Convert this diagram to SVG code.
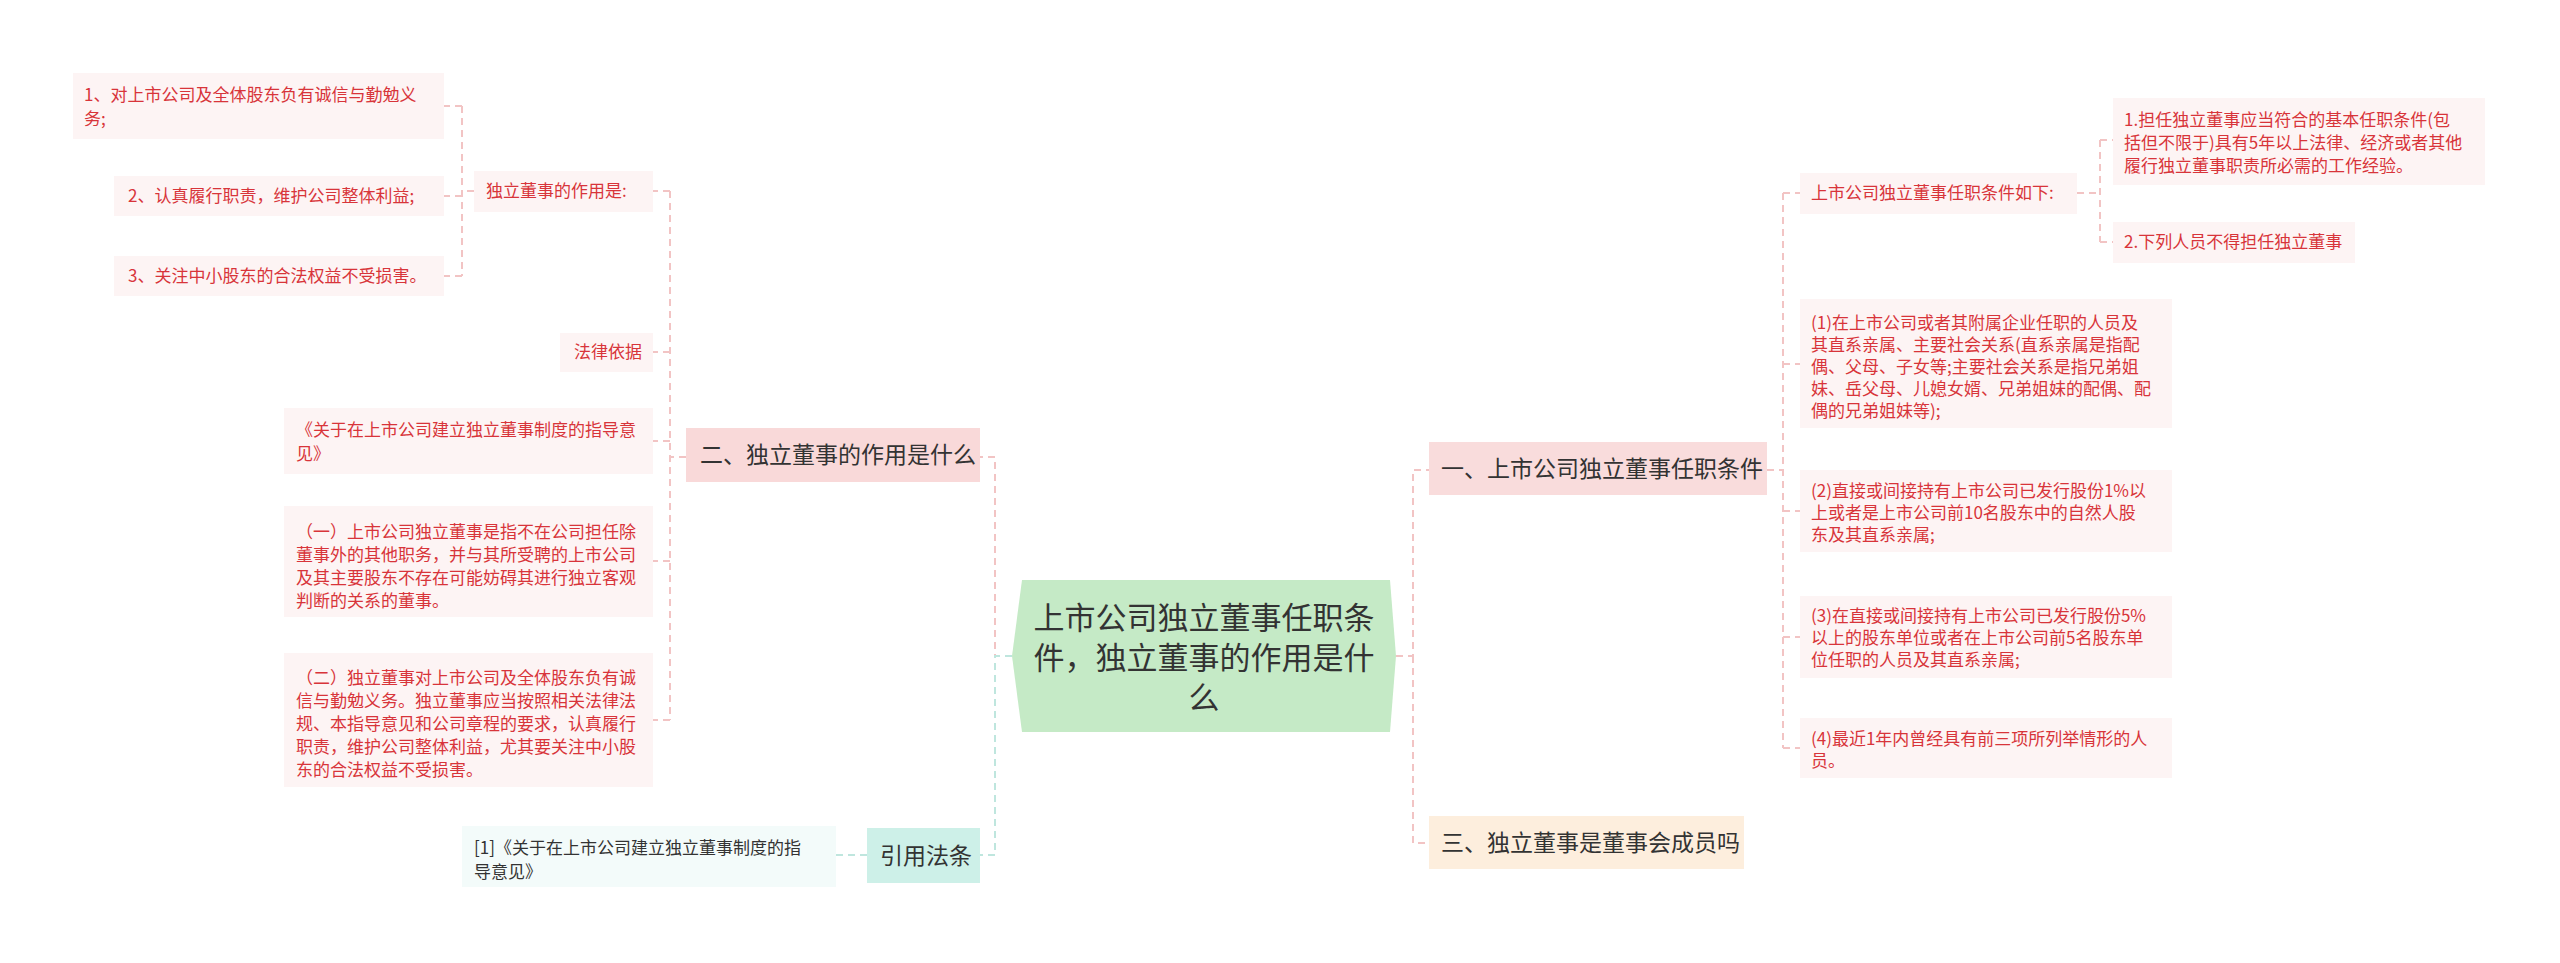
<svg xmlns="http://www.w3.org/2000/svg" width="2560" height="963" viewBox="0 0 2560 963">
<style>
text{font-family:"Noto Sans CJK SC","Liberation Sans",sans-serif}
.leaf rect{fill:#fdf4f4}
.leaf text{fill:#d8343a;font-size:17px}
.br text{fill:#333;font-size:23px}
.c{fill:none;stroke-width:2;stroke-dasharray:7 5}
.p{stroke:#f2c4c4}
.g{stroke:#bfe6de}
</style>
<rect width="2560" height="963" fill="#fff"/>
<g id="connectors">
<path class="c p" d="M1012 656 H995 V457 H980"/>
<path class="c g" d="M1012 656 H995 V855 H980"/>
<path class="c p" d="M1396 656 H1413 V470 H1429"/>
<path class="c p" d="M1413 656 V843 H1429"/>
<path class="c p" d="M686 457 H670 M670 191 V720 M670 191 H653 M670 352 H653 M670 441 H653 M670 561 H653 M670 720 H653"/>
<path class="c p" d="M474 191 H462 M462 106 V276 M462 106 H444 M462 196 H444 M462 276 H444"/>
<path class="c g" d="M867 855 H836"/>
<path class="c p" d="M1783 193 V748 M1767 470 H1783 M1783 193 H1800 M1783 364 H1800 M1783 511 H1800 M1783 637 H1800 M1783 748 H1800"/>
<path class="c p" d="M2077 193 H2100 M2100 140 V242 M2100 140 H2113 M2100 242 H2113"/>
</g>
<g id="center">
<path d="M1022 580 H1390 L1396 656 L1390 732 H1022 L1012 656 Z" fill="#c5eac6"/>
<text x="1204" y="629" font-size="31" fill="#333" text-anchor="middle"><tspan x="1204">上市公司独立董事任职条</tspan><tspan x="1204" dy="40">件，独立董事的作用是什</tspan><tspan x="1204" dy="40">么</tspan></text>
</g>
<g id="b2" class="br"><rect x="686" y="428" width="294" height="54" fill="#f9d9d9"/><text x="700" y="463">二、独立董事的作用是什么</text></g>
<g id="bcite" class="br"><rect x="867" y="828" width="113" height="55" fill="#cdf0e8"/><text x="880" y="864">引用法条</text></g>
<g id="b1" class="br"><rect x="1429" y="442" width="338" height="53" fill="#f9dcdc"/><text x="1441" y="477">一、上市公司独立董事任职条件</text></g>
<g id="b3" class="br"><rect x="1429" y="816" width="315" height="53" fill="#fdeedd"/><text x="1441" y="851">三、独立董事是董事会成员吗</text></g>
<g id="cite1"><rect x="462" y="826" width="374" height="61" fill="#f3fbfa"/><text x="474" y="854" font-size="17" fill="#333"><tspan x="474">[1]《关于在上市公司建立独立董事制度的指</tspan><tspan x="474" dy="24">导意见》</tspan></text></g>
<g id="n1" class="leaf"><rect x="73" y="73" width="371" height="66"/><text x="84" y="101"><tspan x="84">1、对上市公司及全体股东负有诚信与勤勉义</tspan><tspan x="84" dy="24">务;</tspan></text></g>
<g id="n2" class="leaf"><rect x="114" y="176" width="330" height="40"/><text x="128" y="202">2、认真履行职责，维护公司整体利益;</text></g>
<g id="n3" class="leaf"><rect x="114" y="256" width="330" height="40"/><text x="128" y="282">3、关注中小股东的合法权益不受损害。</text></g>
<g id="n4" class="leaf"><rect x="474" y="171" width="179" height="41"/><text x="486" y="197">独立董事的作用是:</text></g>
<g id="n5" class="leaf"><rect x="560" y="333" width="93" height="39"/><text x="574" y="358">法律依据</text></g>
<g id="n6" class="leaf"><rect x="284" y="408" width="369" height="66"/><text x="296" y="436"><tspan x="296">《关于在上市公司建立独立董事制度的指导意</tspan><tspan x="296" dy="24">见》</tspan></text></g>
<g id="n7" class="leaf"><rect x="284" y="506" width="369" height="111"/><text x="296" y="538"><tspan x="296">（一）上市公司独立董事是指不在公司担任除</tspan><tspan x="296" dy="23">董事外的其他职务，并与其所受聘的上市公司</tspan><tspan x="296" dy="23">及其主要股东不存在可能妨碍其进行独立客观</tspan><tspan x="296" dy="23">判断的关系的董事。</tspan></text></g>
<g id="n8" class="leaf"><rect x="284" y="653" width="369" height="134"/><text x="296" y="684"><tspan x="296">（二）独立董事对上市公司及全体股东负有诚</tspan><tspan x="296" dy="23">信与勤勉义务。独立董事应当按照相关法律法</tspan><tspan x="296" dy="23">规、本指导意见和公司章程的要求，认真履行</tspan><tspan x="296" dy="23">职责，维护公司整体利益，尤其要关注中小股</tspan><tspan x="296" dy="23">东的合法权益不受损害。</tspan></text></g>
<g id="r1" class="leaf"><rect x="1800" y="173" width="277" height="41"/><text x="1811" y="199">上市公司独立董事任职条件如下:</text></g>
<g id="r2" class="leaf"><rect x="2113" y="98" width="372" height="87"/><text x="2124" y="126"><tspan x="2124">1.担任独立董事应当符合的基本任职条件(包</tspan><tspan x="2124" dy="23">括但不限于)具有5年以上法律、经济或者其他</tspan><tspan x="2124" dy="23">履行独立董事职责所必需的工作经验。</tspan></text></g>
<g id="r3" class="leaf"><rect x="2113" y="222" width="242" height="41"/><text x="2124" y="248">2.下列人员不得担任独立董事</text></g>
<g id="r4" class="leaf"><rect x="2113" y="222" width="0" height="0"/></g>
<g id="q1" class="leaf"><rect x="1800" y="299" width="372" height="129"/><text x="1811" y="329"><tspan x="1811">(1)在上市公司或者其附属企业任职的人员及</tspan><tspan x="1811" dy="22">其直系亲属、主要社会关系(直系亲属是指配</tspan><tspan x="1811" dy="22">偶、父母、子女等;主要社会关系是指兄弟姐</tspan><tspan x="1811" dy="22">妹、岳父母、儿媳女婿、兄弟姐妹的配偶、配</tspan><tspan x="1811" dy="22">偶的兄弟姐妹等);</tspan></text></g>
<g id="q2" class="leaf"><rect x="1800" y="470" width="372" height="82"/><text x="1811" y="497"><tspan x="1811">(2)直接或间接持有上市公司已发行股份1%以</tspan><tspan x="1811" dy="22">上或者是上市公司前10名股东中的自然人股</tspan><tspan x="1811" dy="22">东及其直系亲属;</tspan></text></g>
<g id="q3" class="leaf"><rect x="1800" y="596" width="372" height="82"/><text x="1811" y="622"><tspan x="1811">(3)在直接或间接持有上市公司已发行股份5%</tspan><tspan x="1811" dy="22">以上的股东单位或者在上市公司前5名股东单</tspan><tspan x="1811" dy="22">位任职的人员及其直系亲属;</tspan></text></g>
<g id="q4" class="leaf"><rect x="1800" y="718" width="372" height="60"/><text x="1811" y="745"><tspan x="1811">(4)最近1年内曾经具有前三项所列举情形的人</tspan><tspan x="1811" dy="22">员。</tspan></text></g>
</svg>
